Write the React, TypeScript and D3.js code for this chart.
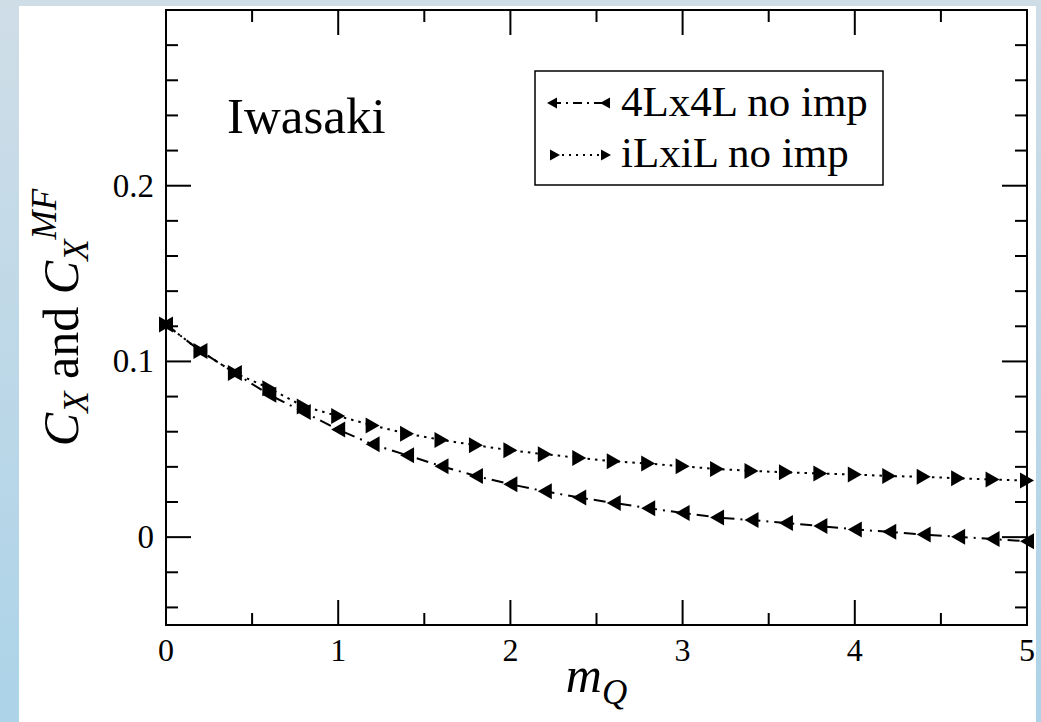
import React from "react";
import * as d3 from "d3";

const W = 1041;
const H = 722;

const xValues = [0, 0.2, 0.4, 0.6, 0.8, 1.0, 1.2, 1.4, 1.6, 1.8, 2.0, 2.2, 2.4, 2.6, 2.8, 3.0, 3.2, 3.4, 3.6, 3.8, 4.0, 4.2, 4.4, 4.6, 4.8, 5.0];
const series4L = [0.121, 0.1059, 0.0934, 0.081, 0.0712, 0.0612, 0.0528, 0.0466, 0.0404, 0.0348, 0.0301, 0.0261, 0.0225, 0.0195, 0.0165, 0.0138, 0.0112, 0.0097, 0.0081, 0.0063, 0.0044, 0.003, 0.0015, 0.0002, -0.0011, -0.0023];
const seriesIL = [0.121, 0.1059, 0.0934, 0.0847, 0.0744, 0.0689, 0.0636, 0.0589, 0.0553, 0.0523, 0.0494, 0.0472, 0.0451, 0.0432, 0.0419, 0.0403, 0.0388, 0.0377, 0.0369, 0.0362, 0.0356, 0.0348, 0.0343, 0.0335, 0.0328, 0.0322];

const xMajor = [0, 1, 2, 3, 4, 5];
const xMinor = [0.5, 1.5, 2.5, 3.5, 4.5];
const yMajor = [0, 0.1, 0.2];
const yMajorLabels = ["0", "0.1", "0.2"];
const yMinor = [-0.04, -0.02, 0.02, 0.04, 0.06, 0.08, 0.12, 0.14, 0.16, 0.18, 0.22, 0.24, 0.26, 0.28];

const legendLabels = ["4Lx4L no imp", "iLxiL no imp"];

const FONT = "'Liberation Serif', 'Times New Roman', serif";

const left = 166, right = 1027, top = 10, bottom = 625;
const x = d3.scaleLinear().domain([0, 5]).range([left, right]);
const y = d3.scaleLinear().domain([-0.05, 0.3]).range([bottom, top]);

function triPath(cx: number, cy: number, dir: "L" | "R", w = 14, h = 16) {
  const hw = w / 2, hh = h / 2;
  if (dir === "L") return `M${cx - hw},${cy} L${cx + hw},${cy - hh} L${cx + hw},${cy + hh} Z`;
  return `M${cx + hw},${cy} L${cx - hw},${cy - hh} L${cx - hw},${cy + hh} Z`;
}

export default function App() {
  const line = d3.line<[number, number]>().x(d => x(d[0])).y(d => y(d[1]));
  const ptsA: [number, number][] = xValues.map((v, i) => [v, series4L[i]]);
  const ptsB: [number, number][] = xValues.map((v, i) => [v, seriesIL[i]]);
  const dashA = "12,6,2,6";
  const dashB = "2.5,5";
  return (
    <div style={{ position: "absolute", left: 0, top: 0 }}>
      <svg width={W} height={H} style={{ display: "block" }}>
        <defs>
          <linearGradient id="bg" x1="0" y1="0" x2="0" y2="1">
            <stop offset="0" stopColor="#cfdde7" />
            <stop offset="1" stopColor="#acd3e8" />
          </linearGradient>
        </defs>
        <rect x={0} y={0} width={W} height={H} fill="url(#bg)" />
        <rect x={19} y={6} width={1017} height={H - 6} fill="#ffffff" />

        {/* lines */}
        <path d={line(ptsA) || ""} fill="none" stroke="#000" strokeWidth={2} strokeDasharray={dashA} />
        <path d={line(ptsB) || ""} fill="none" stroke="#000" strokeWidth={2} strokeDasharray={dashB} />
        {ptsA.map((p, i) => <path key={"a" + i} d={triPath(x(p[0]), y(p[1]), "L")} fill="#000" />)}
        {ptsB.map((p, i) => <path key={"b" + i} d={triPath(x(p[0]), y(p[1]), "R")} fill="#000" />)}

        {/* frame */}
        <rect x={left} y={top} width={right - left} height={bottom - top} fill="none" stroke="#000" strokeWidth={2} />

        {/* ticks */}
        {xMajor.map(v => (
          <g key={"xm" + v}>
            <line x1={x(v)} x2={x(v)} y1={bottom} y2={bottom - 25} stroke="#000" strokeWidth={2} />
            <line x1={x(v)} x2={x(v)} y1={top} y2={top + 25} stroke="#000" strokeWidth={2} />
            <text x={x(v)} y={661} fontFamily={FONT} fontSize={32} textAnchor="middle">{v}</text>
          </g>
        ))}
        {xMinor.map(v => (
          <g key={"xn" + v}>
            <line x1={x(v)} x2={x(v)} y1={bottom} y2={bottom - 12} stroke="#000" strokeWidth={2} />
            <line x1={x(v)} x2={x(v)} y1={top} y2={top + 12} stroke="#000" strokeWidth={2} />
          </g>
        ))}
        {yMajor.map((v, i) => (
          <g key={"ym" + v}>
            <line x1={left} x2={left + 25} y1={y(v)} y2={y(v)} stroke="#000" strokeWidth={2} />
            <line x1={right} x2={right - 25} y1={y(v)} y2={y(v)} stroke="#000" strokeWidth={2} />
            <text x={154} y={y(v) + 11} fontFamily={FONT} fontSize={33} textAnchor="end">{yMajorLabels[i]}</text>
          </g>
        ))}
        {yMinor.map(v => (
          <g key={"yn" + v}>
            <line x1={left} x2={left + 12} y1={y(v)} y2={y(v)} stroke="#000" strokeWidth={2} />
            <line x1={right} x2={right - 12} y1={y(v)} y2={y(v)} stroke="#000" strokeWidth={2} />
          </g>
        ))}

        {/* title text */}
        <text x={227} y={133} fontFamily={FONT} fontSize={51}>Iwasaki</text>

        {/* legend */}
        <rect x={535} y={71} width={348} height={114} fill="#fff" stroke="#000" strokeWidth={1.5} />
        <line x1={552} x2={605} y1={103} y2={103} stroke="#000" strokeWidth={2} strokeDasharray="9,5,2,5" />
        <path d={triPath(552, 103, "L", 10, 11)} fill="#000" />
        <path d={triPath(605, 103, "L", 10, 11)} fill="#000" />
        <text x={621} y={116} fontFamily={FONT} fontSize={43}>{legendLabels[0]}</text>
        <line x1={555} x2={606} y1={155} y2={155} stroke="#000" strokeWidth={2} strokeDasharray="2,5" />
        <path d={triPath(555, 155, "R", 10, 11)} fill="#000" />
        <path d={triPath(606, 155, "R", 10, 11)} fill="#000" />
        <text x={621} y={167} fontFamily={FONT} fontSize={43}>{legendLabels[1]}</text>

        {/* axis labels */}
        <text transform={`translate(78,${(top + bottom) / 2}) rotate(-90)`} fontFamily={FONT} fontSize={50} textAnchor="middle">
          <tspan fontStyle="italic">C</tspan>
          <tspan fontStyle="italic" fontSize={35} dy={10}>X</tspan>
          <tspan dy={-10}> and </tspan>
          <tspan fontStyle="italic">C</tspan>
          <tspan fontStyle="italic" fontSize={35} dy={10}>X</tspan>
          <tspan fontStyle="italic" fontSize={35} dy={-32}>MF</tspan>
        </text>
        <text x={(left + right) / 2} y={692} fontFamily={FONT} fontSize={50} textAnchor="middle">
          <tspan fontStyle="italic">m</tspan>
          <tspan fontStyle="italic" fontSize={35} dy={12}>Q</tspan>
        </text>
      </svg>
    </div>
  );
}
